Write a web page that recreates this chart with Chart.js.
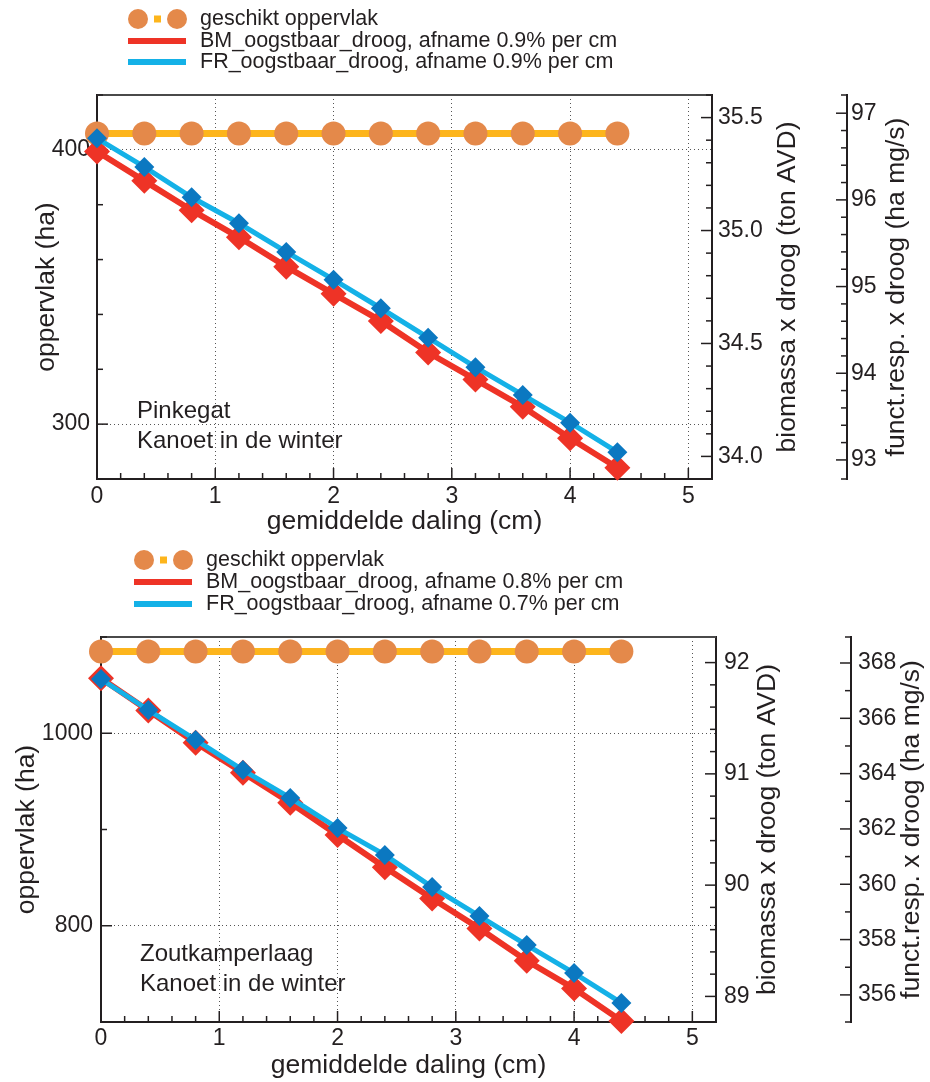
<!DOCTYPE html>
<html>
<head>
<meta charset="utf-8">
<script src="https://cdn.jsdelivr.net/npm/chart.js@4.4.1/dist/chart.umd.min.js"></script>
<style>
  html, body { margin: 0; padding: 0; background: #fff; }
  canvas { display: block; }
</style>
</head>
<body>
<canvas id="pinkegatChart" width="930" height="541"></canvas>
<canvas id="zoutkamperlaagChart" width="930" height="541"></canvas>
<script>
// gemiddelde daling (cm), same for both panels
const daling = [0, 0.4, 0.8, 1.2, 1.6, 2.0, 2.4, 2.8, 3.2, 3.6, 4.0, 4.4];

// Pinkegat
const pinkLabels = ['geschikt oppervlak', 'BM_oogstbaar_droog, afname 0.9% per cm', 'FR_oogstbaar_droog, afname 0.9% per cm'];
const pinkOppervlak = [406, 406, 406, 406, 406, 406, 406, 406, 406, 406, 406, 406];
const pinkBM = [35.35, 35.22, 35.09, 34.97, 34.84, 34.72, 34.60, 34.46, 34.34, 34.22, 34.08, 33.95];
const pinkFR = [96.71, 96.38, 96.03, 95.73, 95.40, 95.08, 94.75, 94.41, 94.07, 93.75, 93.43, 93.09];
const pinkNote = ['Pinkegat', 'Kanoet in de winter'];

// Zoutkamperlaag
const zoutLabels = ['geschikt oppervlak', 'BM_oogstbaar_droog, afname 0.8% per cm', 'FR_oogstbaar_droog, afname 0.7% per cm'];
const zoutOppervlak = [1085, 1085, 1085, 1085, 1085, 1085, 1085, 1085, 1085, 1085, 1085, 1085];
const zoutBM = [91.86, 91.57, 91.28, 91.01, 90.74, 90.45, 90.16, 89.88, 89.61, 89.32, 89.07, 88.78];
const zoutFR = [367.42, 366.30, 365.22, 364.13, 363.12, 362.03, 361.06, 359.90, 358.85, 357.80, 356.79, 355.71];
const zoutNote = ['Zoutkamperlaag', 'Kanoet in de winter'];

// axis titles
const xTitle = 'gemiddelde daling (cm)';
const yTitle = 'oppervlak (ha)';
const bioTitle = 'biomassa x droog (ton AVD)';
const frTitle = 'funct.resp. x droog (ha mg/s)';

const family = "'Liberation Sans', Arial, Helvetica, sans-serif";
const ink = '#231f20';
const orangeLine = '#fdb51c';
const orangeDot = '#e4894a';
const red = '#ee3326';
const lightBlue = '#14b1e7';
const darkBlue = '#0b78c1';

Chart.defaults.font.family = family;
Chart.defaults.color = ink;

function onStep(v, step) {
    const r = v / step;
    return Math.abs(r - Math.round(r)) < 1e-6;
}

// inward tick marks, top frame line, right axis titles, notes and legend
const decorations = {
    id: 'decorations',
    beforeDatasetsDraw(chart, args, o) {
        const ctx = chart.ctx, a = chart.chartArea;
        ctx.save();
        ctx.strokeStyle = '#4a4a4a';
        ctx.lineWidth = 2;
        ctx.beginPath();
        ctx.moveTo(a.left, a.top);
        ctx.lineTo(a.right, a.top);
        ctx.stroke();

        ctx.strokeStyle = ink;
        ctx.lineWidth = 1.5;
        for (const id in o.ticks) {
            const scale = chart.scales[id];
            const [step, major] = o.ticks[id];
            for (const t of scale.ticks) {
                if (!onStep(t.value, step)) continue;
                const len = onStep(t.value, major) ? 11 : 6;
                const p = scale.getPixelForValue(t.value);
                ctx.beginPath();
                if (id === 'x') { ctx.moveTo(p, scale.top); ctx.lineTo(p, scale.top - len); }
                else if (scale.position === 'left') { ctx.moveTo(scale.right, p); ctx.lineTo(scale.right + len, p); }
                else { ctx.moveTo(scale.left, p); ctx.lineTo(scale.left - len, p); }
                ctx.stroke();
            }
        }
        // little end caps on the free standing axis
        const fr = chart.scales.fr;
        ctx.beginPath();
        ctx.moveTo(fr.left - 6, fr.top); ctx.lineTo(fr.left, fr.top);
        ctx.moveTo(fr.left - 6, fr.bottom); ctx.lineTo(fr.left, fr.bottom);
        ctx.stroke();
        ctx.restore();
    },
    afterDraw(chart, args, o) {
        const ctx = chart.ctx, a = chart.chartArea;
        ctx.save();
        ctx.fillStyle = ink;
        ctx.textBaseline = 'middle';

        // right hand titles read bottom to top
        ctx.font = '26.5px ' + family;
        ctx.textAlign = 'center';
        for (const id in o.titles) {
            const [text, off] = o.titles[id];
            ctx.save();
            ctx.translate(chart.scales[id].left + off, (a.top + a.bottom) / 2);
            ctx.rotate(-Math.PI / 2);
            ctx.fillText(text, 0, 0);
            ctx.restore();
        }

        ctx.textAlign = 'left';
        ctx.font = '24px ' + family;
        o.note.forEach((s, i) => ctx.fillText(s, a.left + o.noteX, o.noteY + i * 30));

        // legend
        const x0 = o.legendX;
        ctx.font = '21.5px ' + family;
        chart.data.datasets.forEach((d, i) => {
            const y = o.legendY[i];
            if (i === 0) {
                ctx.fillStyle = d.pointBackgroundColor;
                [10, 49].forEach(dx => {
                    ctx.beginPath();
                    ctx.arc(x0 + dx, y, 10, 0, 2 * Math.PI);
                    ctx.fill();
                });
                ctx.fillStyle = d.borderColor;
                ctx.fillRect(x0 + 26, y - 3.5, 7, 7);
            } else {
                ctx.fillStyle = d.borderColor;
                ctx.fillRect(x0, y - 3, 58, 6);
            }
            ctx.fillStyle = ink;
            ctx.fillText(d.label, x0 + 72, y);
        });
        ctx.restore();
    }
};

function buildChart(canvasId, s) {
    const pts = (arr) => daling.map((x, i) => ({ x: x, y: arr[i] }));
    const tickFont = { size: 23 };
    const titleFont = { size: 26.5 };

    return new Chart(canvasId, {
        type: 'line',
        data: {
            datasets: [{
                label: s.labels[0],
                data: pts(s.opp),
                yAxisID: 'y',
                borderColor: orangeLine,
                borderWidth: 7,
                pointRadius: 12,
                pointBackgroundColor: orangeDot,
                pointBorderWidth: 0,
                order: 2,
            }, {
                label: s.labels[1],
                data: pts(s.bm),
                yAxisID: 'bio',
                borderColor: red,
                borderWidth: 6,
                pointStyle: 'rectRot',
                pointRadius: 13,
                pointBackgroundColor: red,
                pointBorderWidth: 0,
                order: 1,
            }, {
                label: s.labels[2],
                data: pts(s.fr),
                yAxisID: 'fr',
                borderColor: lightBlue,
                borderWidth: 5,
                pointStyle: 'rectRot',
                pointRadius: 10,
                pointBackgroundColor: darkBlue,
                pointBorderWidth: 0,
                order: 0,
            }]
        },
        options: {
            responsive: false,
            animation: false,
            events: [],
            clip: false,
            elements: { line: { tension: 0 } },
            layout: { padding: { top: s.top, left: 0, right: 0, bottom: 0 } },
            plugins: {
                legend: { display: false },
                tooltip: { enabled: false },
                decorations: {
                    ticks: { x: [0.2, 1], y: s.yTicks, bio: s.bioTicks, fr: s.frTicks },
                    titles: { bio: [bioTitle, s.bioTitleOff], fr: [frTitle, s.frTitleOff] },
                    note: s.note, noteX: s.noteX, noteY: s.noteY,
                    legendX: s.legendX, legendY: s.legendY,
                }
            },
            scales: {
                x: {
                    type: 'linear',
                    min: 0,
                    max: 5.2,
                    ticks: {
                        stepSize: 0.2,
                        autoSkip: false,
                        maxRotation: 0,
                        padding: s.xPad,
                        font: tickFont,
                        callback: v => onStep(v, 1) ? String(Math.round(v)) : '',
                    },
                    grid: {
                        drawTicks: false,
                        lineWidth: 1,
                        color: c => (c.tick && c.tick.value > 0 && onStep(c.tick.value, 1)) ? '#555' : 'rgba(0,0,0,0)',
                    },
                    border: { color: ink, width: 2, dash: [1, 3] },
                    title: { display: true, text: xTitle, font: titleFont, padding: { top: 0, bottom: s.xTitlePad } },
                    afterFit: sc => { sc.height = s.xHeight; },
                },
                y: {
                    position: 'left',
                    min: s.yMin,
                    max: s.yMax,
                    ticks: {
                        stepSize: s.yTicks[0],
                        autoSkip: false,
                        padding: s.yPad,
                        font: tickFont,
                        callback: v => onStep(v, s.yTicks[1]) ? String(v) : '',
                    },
                    grid: {
                        drawTicks: false,
                        lineWidth: 1,
                        color: c => (c.tick && onStep(c.tick.value, s.yTicks[1])) ? '#555' : 'rgba(0,0,0,0)',
                    },
                    border: { color: ink, width: 2, dash: [1, 3] },
                    title: { display: true, text: yTitle, font: titleFont, padding: { top: s.yTitlePad, bottom: 0 } },
                    afterFit: sc => { sc.width = s.yWidth; },
                },
                bio: {
                    position: 'right',
                    weight: 0,
                    min: s.bioMin,
                    max: s.bioMax,
                    ticks: {
                        stepSize: s.bioTicks[0],
                        autoSkip: false,
                        padding: s.bioPad,
                        font: tickFont,
                        callback: v => onStep(v, s.bioTicks[1]) ? v.toFixed(s.bioDec) : '',
                    },
                    grid: { drawOnChartArea: false, drawTicks: false },
                    border: { color: ink, width: 2 },
                    afterFit: sc => { sc.width = s.bioWidth; },
                },
                fr: {
                    position: 'right',
                    weight: 1,
                    min: s.frMin,
                    max: s.frMax,
                    ticks: {
                        stepSize: s.frTicks[0],
                        autoSkip: false,
                        padding: s.frPad,
                        font: tickFont,
                        callback: v => onStep(v, s.frTicks[1]) ? String(Math.round(v)) : '',
                    },
                    grid: { drawOnChartArea: false, drawTicks: false },
                    border: { color: ink, width: 2 },
                    afterFit: sc => { sc.width = s.frWidth; },
                }
            }
        },
        plugins: [decorations]
    });
}

buildChart('pinkegatChart', {
    labels: pinkLabels, opp: pinkOppervlak, bm: pinkBM, fr: pinkFR, note: pinkNote,
    top: 95, xHeight: 62, xPad: 4, xTitlePad: 3,
    yMin: 280, yMax: 420, yTicks: [20, 100], yPad: 7, yWidth: 97, yTitlePad: 31,
    bioMin: 33.9, bioMax: 35.6, bioTicks: [0.1, 0.5], bioDec: 1, bioPad: 6, bioWidth: 135, bioTitleOff: 76,
    frMin: 92.78, frMax: 97.21, frTicks: [0.2, 1], frPad: 4, frWidth: 83, frTitleOff: 50,
    noteX: 40, noteY: 411,
    legendX: 128, legendY: [19, 41, 62],
});

buildChart('zoutkamperlaagChart', {
    labels: zoutLabels, opp: zoutOppervlak, bm: zoutBM, fr: zoutFR, note: zoutNote,
    top: 96, xHeight: 60, xPad: 3, xTitlePad: 0,
    yMin: 700, yMax: 1100, yTicks: [100, 200], yPad: 8, yWidth: 101, yTitlePad: 11,
    bioMin: 88.77, bioMax: 92.23, bioTicks: [0.2, 1], bioDec: 0, bioPad: 8, bioWidth: 135, bioTitleOff: 52,
    frMin: 355.02, frMax: 368.94, frTicks: [1, 2], frPad: 7, frWidth: 79, frTitleOff: 61,
    noteX: 39, noteY: 413,
    legendX: 134, legendY: [19, 41, 63],
});
</script>
</body>
</html>
